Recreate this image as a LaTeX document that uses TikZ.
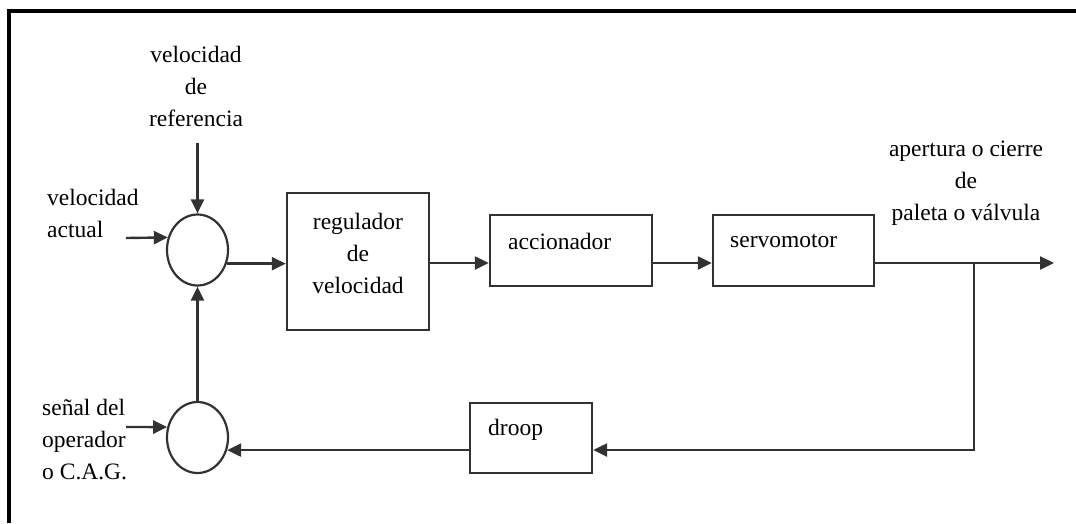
\documentclass[tikz,border=0pt]{standalone}
\usepackage{fontspec}
\setmainfont{Liberation Serif}
\usetikzlibrary{arrows.meta,shapes.geometric}
\definecolor{linec}{RGB}{50,50,50}
\tikzset{
  lbl/.style={inner sep=0pt, font=\fontsize{23.5}{32}\selectfont, text=black},
  sumc/.style={ellipse, draw=linec, line width=2.2pt, minimum width=61pt, minimum height=71pt, inner sep=0pt},
  blk/.style={rectangle, draw=linec, line width=2.4pt, inner sep=0pt},
  arr/.style={draw=linec, line width=2.4pt, -{Triangle[length=14pt,width=13pt]}},
  frame/.style={draw=black, line width=3.5pt}
}
\begin{document}
\begin{tikzpicture}[x=1pt,y=-1pt]
\useasboundingbox (0,0) rectangle (1076,523);
\draw[frame] (9,523) -- (9,11) -- (1076,11);

% summing junctions
\node[sumc] (s1) at (197.5,250) {};
\node[sumc] (s2) at (197.5,437.5) {};

% blocks
\node[blk, minimum width=142pt, minimum height=137pt] (reg) at (358,261.5) {};
\node[blk, minimum width=162pt, minimum height=71pt] (acc) at (571,250.5) {};
\node[blk, minimum width=161pt, minimum height=71pt] (servo) at (793.5,250.5) {};
\node[blk, minimum width=122pt, minimum height=70pt] (droop) at (531,438) {};

% texts
\node[lbl, align=center] (treg) at (358,253.5) {regulador\\de\\velocidad};
\node[lbl, anchor=west] (tacc) at (508,241) {accionador};
\node[lbl, anchor=west] (tservo) at (730,241) {servomotor};
\node[lbl, anchor=west] (tdroop) at (488,430) {droop};
\node[lbl, align=center] (tref) at (196,86.5) {velocidad\\de\\referencia};
\node[lbl, align=left, anchor=west] (tact) at (47,213.5) {velocidad\\actual};
\node[lbl, align=left, anchor=west] (tsen) at (42,440) {señal del\\operador\\o C.A.G.};
\node[lbl, align=center] (tout) at (966,183) {apertura o cierre\\de\\paleta o válvula};

% coordinates
\coordinate (refin) at (197.5,143);
\coordinate (actin) at (126,238);
\coordinate (senin) at (126,427);
\coordinate (mainy) at (0,263);
\coordinate (br) at (974,263);
\coordinate (out) at (1054,263);
\coordinate (fby) at (0,450);

% connectors
\draw[arr] (refin) -- (s1.north);
\draw[arr] (actin) -- (s1.157);
\draw[arr] (senin) -- (s2.161);
\draw[arr] (s1.-25) -- (s1.-25 -| reg.west);
\draw[arr] (reg.east |- mainy) -- (acc.west |- mainy);
\draw[arr] (acc.east |- mainy) -- (servo.west |- mainy);
\draw[arr] (servo.east |- mainy) -- (out);
\draw[arr] (br) -- (br |- fby) -- (droop.east |- fby);
\draw[arr] (droop.west |- s2.-23) -- (s2.-23);
\draw[arr] (s2.north) -- (s1.south);
\end{tikzpicture}
\end{document}
